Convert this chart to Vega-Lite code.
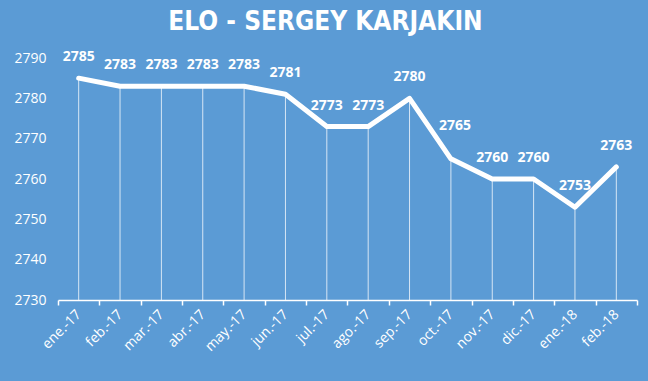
{
  "$schema": "https://vega.github.io/schema/vega-lite/v6.json",
  "autosize": "none",
  "width": 579,
  "height": 242,
  "padding": {"left": 58, "top": 58, "right": 11, "bottom": 81},
  "background": "#5B9BD5",
  "config": {"view": {"stroke": null}},
  "title": {
    "text": "ELO - SERGEY KARJAKIN",
    "font": "DejaVu Sans Condensed",
    "fontWeight": "bold",
    "fontSize": 26,
    "color": "#ffffff",
    "anchor": "middle",
    "dx": -22,
    "offset": 15
  },
  "data": {
    "values": [
      {"mes": "ene.-17", "elo": 2785},
      {"mes": "feb.-17", "elo": 2783},
      {"mes": "mar.-17", "elo": 2783},
      {"mes": "abr.-17", "elo": 2783},
      {"mes": "may.-17", "elo": 2783},
      {"mes": "jun.-17", "elo": 2781},
      {"mes": "jul.-17", "elo": 2773},
      {"mes": "ago.-17", "elo": 2773},
      {"mes": "sep.-17", "elo": 2780},
      {"mes": "oct.-17", "elo": 2765},
      {"mes": "nov.-17", "elo": 2760},
      {"mes": "dic.-17", "elo": 2760},
      {"mes": "ene.-18", "elo": 2753},
      {"mes": "feb.-18", "elo": 2763}
    ]
  },
  "encoding": {
    "x": {
      "field": "mes",
      "type": "ordinal",
      "sort": null,
      "scale": {"type": "band", "paddingInner": 0, "paddingOuter": 0},
      "axis": {
        "title": null,
        "labelAngle": -45,
        "labelAlign": "right",
        "labelBaseline": "middle",
        "labelFont": "Open Sans",
        "labelFontSize": 14,
        "labelColor": "#ffffff",
        "labelPadding": 7,
        "tickBand": "extent",
        "tickColor": "#ffffff",
        "tickSize": 5,
        "tickWidth": 1.5,
        "domainColor": "#ffffff",
        "domainWidth": 1.5,
        "grid": false
      }
    },
    "y": {
      "field": "elo",
      "type": "quantitative",
      "scale": {"domain": [2730, 2790], "zero": false, "nice": false},
      "axis": {
        "title": null,
        "format": "d",
        "values": [2730, 2740, 2750, 2760, 2770, 2780, 2790],
        "labelFont": "Open Sans",
        "labelFontSize": 14,
        "labelColor": "#ffffff",
        "labelPadding": 12,
        "domain": false,
        "ticks": false,
        "grid": false
      }
    }
  },
  "layer": [
    {
      "mark": {"type": "rule", "color": "#ffffff", "strokeWidth": 1, "opacity": 0.75},
      "encoding": {"y2": {"datum": 2730}}
    },
    {
      "mark": {"type": "line", "color": "#ffffff", "strokeWidth": 5, "strokeCap": "round", "strokeJoin": "round"}
    },
    {
      "transform": [{"filter": "datum.mes !== 'oct.-17'"}],
      "mark": {"type": "text", "color": "#ffffff", "font": "Open Sans", "fontWeight": "bold", "fontSize": 14, "dy": -21},
      "encoding": {"text": {"field": "elo", "type": "quantitative", "format": "d"}}
    },
    {
      "transform": [{"filter": "datum.mes === 'oct.-17'"}],
      "mark": {"type": "text", "color": "#ffffff", "font": "Open Sans", "fontWeight": "bold", "fontSize": 14, "dy": -33, "dx": 4},
      "encoding": {"text": {"field": "elo", "type": "quantitative", "format": "d"}}
    }
  ]
}
